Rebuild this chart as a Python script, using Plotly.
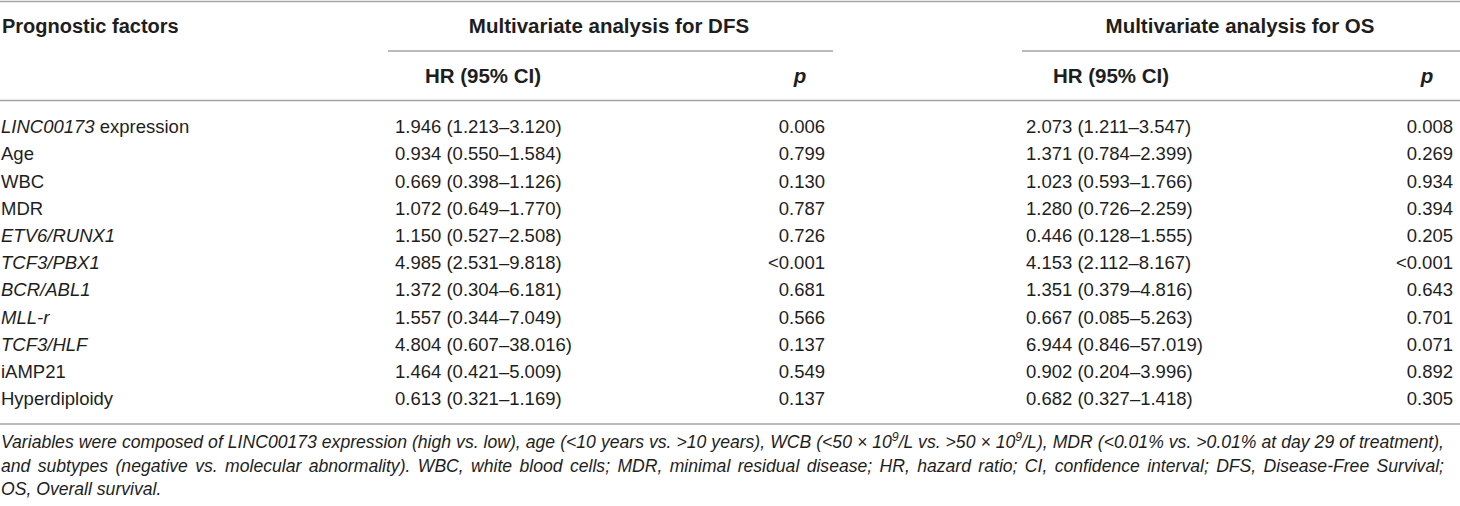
import plotly.graph_objects as go

# table content
factors = ["<i>LINC00173</i> expression", "Age", "WBC", "MDR", "<i>ETV6/RUNX1</i>",
           "<i>TCF3/PBX1</i>", "<i>BCR/ABL1</i>", "<i>MLL-r</i>", "<i>TCF3/HLF</i>",
           "iAMP21", "Hyperdiploidy"]
dfs_hr = ["1.946 (1.213–3.120)", "0.934 (0.550–1.584)", "0.669 (0.398–1.126)",
          "1.072 (0.649–1.770)", "1.150 (0.527–2.508)", "4.985 (2.531–9.818)",
          "1.372 (0.304–6.181)", "1.557 (0.344–7.049)", "4.804 (0.607–38.016)",
          "1.464 (0.421–5.009)", "0.613 (0.321–1.169)"]
dfs_p = ["0.006", "0.799", "0.130", "0.787", "0.726", "<0.001", "0.681", "0.566",
         "0.137", "0.549", "0.137"]
os_hr = ["2.073 (1.211–3.547)", "1.371 (0.784–2.399)", "1.023 (0.593–1.766)",
         "1.280 (0.726–2.259)", "0.446 (0.128–1.555)", "4.153 (2.112–8.167)",
         "1.351 (0.379–4.816)", "0.667 (0.085–5.263)", "6.944 (0.846–57.019)",
         "0.902 (0.204–3.996)", "0.682 (0.327–1.418)"]
os_p = ["0.008", "0.269", "0.934", "0.394", "0.205", "<0.001", "0.643", "0.701",
        "0.071", "0.892", "0.305"]

first_header = "Prognostic factors"
group_headers = ["Multivariate analysis for DFS", "Multivariate analysis for OS"]
sub_headers = ["HR (95% CI)", "<i>p</i>", "HR (95% CI)", "<i>p</i>"]

footnote = [
    "Variables were composed of LINC00173 expression (high vs. low), age (<10 years vs. >10 years), "
    "WCB (<50 × 10<sup>9</sup>/L vs. >50 × 10<sup>9</sup>/L), MDR (<0.01% vs. >0.01% at day 29 of treatment),",
    "and subtypes (negative vs. molecular abnormality). WBC, white blood cells; MDR, minimal residual disease; "
    "HR, hazard ratio; CI, confidence interval; DFS, Disease-Free Survival;",
    "OS, Overall survival.",
]

FONT = "Liberation Sans, Arial, Helvetica, sans-serif"
INK = "#1e1e1e"
RULE = "#a3a3a3"
W, H = 1460, 506

row0, step = 128.5, 27.2
rows = [row0 + i * step for i in range(len(factors))]

fig = go.Figure()


def col(texts, x, ys, pos, size=18.5, bold=False):
    fig.add_trace(go.Scatter(
        x=[x] * len(texts), y=ys, text=[f"<b>{t}</b>" if bold else t for t in texts],
        mode="text", textposition=pos, hoverinfo="skip", showlegend=False,
        textfont=dict(family=FONT, size=size, color=INK),
    ))


# body columns
col(factors, 1, rows, "middle right")
col(dfs_hr, 395, rows, "middle right")
col(dfs_p, 825, rows, "middle left")
col(os_hr, 1026, rows, "middle right")
col(os_p, 1453, rows, "middle left")

# headers
col([first_header], 2, [28], "middle right", size=20, bold=True)
col([group_headers[0]], 609, [28], "middle center", size=20.5, bold=True)
col([group_headers[1]], 1240, [28], "middle center", size=20.5, bold=True)
col([sub_headers[0]], 483, [78], "middle center", size=20.5, bold=True)
col([sub_headers[1]], 800, [78], "middle center", size=20.5, bold=True)
col([sub_headers[2]], 1111, [78], "middle center", size=20.5, bold=True)
col([sub_headers[3]], 1427, [78], "middle center", size=20.5, bold=True)

# footnote (italic, justified in the page script below)
col([f"<i>{t}</i>" for t in footnote], 1, [444, 467.5, 491], "middle right", size=17.6)

# rules
lines = [(0, W, 1.5), (388, 833, 51), (1022, W, 51), (0, W, 100.5), (0, W, 424)]
for x0, x1, y in lines:
    fig.add_shape(type="line", x0=x0, x1=x1, y0=y, y1=y, xref="x", yref="y",
                  line=dict(color=RULE, width=1.6))

fig.update_layout(
    width=W, height=H, margin=dict(l=0, r=0, t=0, b=0),
    paper_bgcolor="white", plot_bgcolor="white",
    xaxis=dict(range=[0, W], visible=False, fixedrange=True),
    yaxis=dict(range=[H, 0], visible=False, fixedrange=True),
)

# drop the page margin and stretch the two full footnote lines to the right edge
js = """
document.body.style.margin = '0';
var gd = document.getElementById('{plot_id}');
gd.querySelectorAll('text').forEach(function (t) {
  var s = t.textContent;
  if (s.indexOf('Variables') === 0 || s.indexOf('and subtypes') === 0) {
    var gaps = s.split(' ').length - 1;
    var x0 = t.getBBox().x;
    var len = t.getComputedTextLength();
    t.style.wordSpacing = ((1444 - x0 - len) / gaps) + 'px';
  }
});
"""

fig.write_html("out.html", post_script=js, config={"displayModeBar": False})
